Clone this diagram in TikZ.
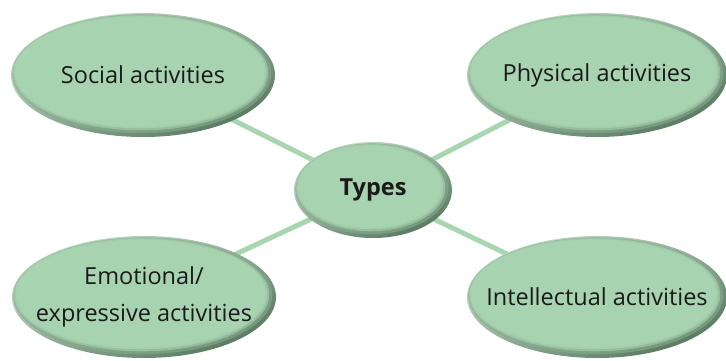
\documentclass[tikz,border=0pt]{standalone}
\usepackage{fontspec}
\setmainfont{Open Sans}
\usetikzlibrary{backgrounds}

\definecolor{ovlight}{HTML}{C8E4CD}
\definecolor{ovdark}{HTML}{587860}
\definecolor{ovmid}{HTML}{86AA8D}
\definecolor{ovfill}{HTML}{A8D3B0}
\definecolor{linkgreen}{HTML}{A8D6B1}
\definecolor{txt}{HTML}{1A1A1A}

\tikzset{
  ovtext/.style={align=center, text=txt, inner sep=0pt,
    font=\fontsize{23.5}{37}\selectfont},
  link/.style={draw=linkgreen, line width=5pt}
}

% shaded green oval with a soft darker rim at the lower right
% #1 name, #2 x, #3 y, #4 x radius, #5 y radius, #6 text
\newcommand\greenoval[6]{%
  \begin{scope}[shift={(#2,#3)}]
    \shade[top color=ovlight, bottom color=ovdark, shading angle=25]
      (0,0) ellipse [x radius=#4, y radius=#5];
    \fill[ovmid, opacity=0.6] (-1.3,1.3) ellipse [x radius=#4-2.5, y radius=#5-2.5];
    \fill[ovfill, opacity=0.6] (-2.2,2.2) ellipse [x radius=#4-4.5, y radius=#5-4.5];
    \fill[ovfill, opacity=0.8] (-2.8,2.8) ellipse [x radius=#4-6, y radius=#5-6];
    \fill[ovfill] (-3.2,3.2) ellipse [x radius=#4-7.5, y radius=#5-7.5];
  \end{scope}
  \node[ovtext] (#1) at (#2,#3) {#6};
}

\begin{document}
\begin{tikzpicture}[x=1pt, y=1pt]
  \useasboundingbox (0,0) rectangle (726,360);

  \greenoval{social}{143}{285}{132}{62}{Social activities}
  \greenoval{physical}{597}{285}{130}{62}{Physical activities}
  \greenoval{emotional}{144}{63}{132}{61}{Emotional/\\expressive activities}
  \greenoval{intellectual}{597}{63}{130}{61}{Intellectual activities}
  \greenoval{types}{373}{170}{79}{48}{\textbf{Types}}

  \begin{scope}[on background layer]
    \draw[link] (types.center) -- (social.center);
    \draw[link] (types.center) -- (physical.center);
    \draw[link] (types.center) -- (emotional.center);
    \draw[link] (types.center) -- (intellectual.center);
  \end{scope}
\end{tikzpicture}
\end{document}
